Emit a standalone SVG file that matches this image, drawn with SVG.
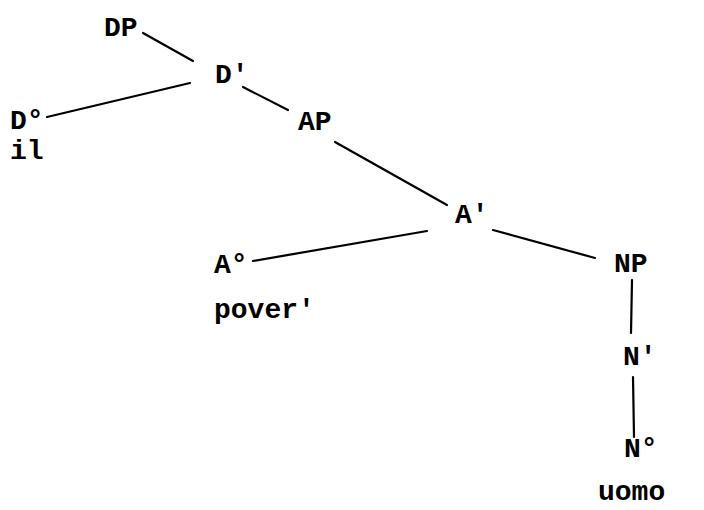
<svg xmlns="http://www.w3.org/2000/svg" width="704" height="510" viewBox="0 0 704 510">
<style>
text{font-family:"Liberation Mono","Courier New",monospace;font-weight:bold;font-size:28px;fill:#000}
line{stroke:#000;stroke-width:2.2;stroke-linecap:round}
</style>
<rect width="704" height="510" fill="#fff"/>
<g id="connectors">
<line x1="143" y1="33" x2="193" y2="61"/>
<line x1="190" y1="83" x2="47" y2="117"/>
<line x1="243" y1="87" x2="288" y2="110"/>
<line x1="335" y1="142" x2="447" y2="205"/>
<line x1="427" y1="231" x2="253" y2="261"/>
<line x1="493" y1="230" x2="595" y2="258"/>
<line x1="632" y1="280" x2="631" y2="333"/>
<line x1="633" y1="377" x2="634" y2="437"/>
</g>
<g id="DP"><text x="104" y="36">DP</text></g>
<g id="Dbar"><text x="215" y="83">D'</text></g>
<g id="D0"><text x="10" y="129">D°</text></g>
<g id="il"><text x="10" y="159">il</text></g>
<g id="AP"><text x="298" y="130">AP</text></g>
<g id="Abar"><text x="455" y="223">A'</text></g>
<g id="A0"><text x="214" y="273">A°</text></g>
<g id="pover"><text x="214" y="318">pover'</text></g>
<g id="NP"><text x="614" y="272">NP</text></g>
<g id="Nbar"><text x="623" y="365">N'</text></g>
<g id="N0"><text x="624" y="457">N°</text></g>
<g id="uomo"><text x="598" y="500">uomo</text></g>
</svg>
